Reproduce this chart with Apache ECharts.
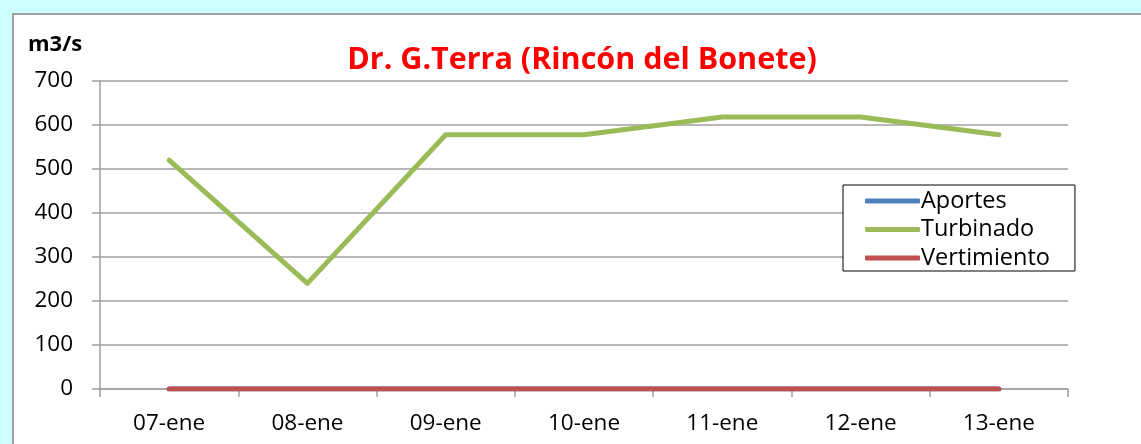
<!DOCTYPE html>
<html>
<head>
<meta charset="utf-8">
<script src="https://cdn.jsdelivr.net/npm/echarts@6/dist/echarts.min.js"></script>
<style>
  html, body { margin: 0; padding: 0; background: #ccffff; }
  #chart { position: absolute; left: 12px; top: 13px; width: 1140px; height: 440px;
           background: #fff; border: 2px solid #a0a0a0; box-sizing: border-box; }
</style>
</head>
<body>
<div id="chart"></div>
<script>
// datos
var fechas = ['07-ene', '08-ene', '09-ene', '10-ene', '11-ene', '12-ene', '13-ene'];
var aportes = [0, 0, 0, 0, 0, 0, 0];
var turbinado = [520, 240, 578, 578, 618, 618, 578];
var vertimiento = [0, 0, 0, 0, 0, 0, 0];

var fuente = '"Open Sans", "Liberation Sans", sans-serif';
var gris = '#a0a0a0';

var myChart = echarts.init(document.getElementById('chart'));

// el contenido del div empieza en (14,15)
myChart.setOption({
    animation: false,
    title: {
        text: 'Dr. G.Terra (Rincón del Bonete)',
        left: 563,
        top: 25,
        textAlign: 'center',
        textStyle: { color: '#ff0000', fontFamily: fuente, fontWeight: 'bold', fontSize: 30.5 }
    },
    graphic: [{
        type: 'text',
        left: 14,
        top: 19,
        style: { text: 'm3/s', fill: '#000', font: 'bold 22px ' + fuente }
    }],
    legend: {
        orient: 'vertical',
        left: 829,
        top: 170,
        padding: [4, 25, 1, 22],
        itemGap: 4.5,
        itemWidth: 55,
        itemHeight: 5,
        icon: 'roundRect',
        borderColor: '#000',
        borderWidth: 1,
        backgroundColor: '#fff',
        textStyle: { fontFamily: fuente, fontSize: 23.5, color: '#000', padding: [0, 0, 0, -4] },
        data: ['Aportes', 'Turbinado', 'Vertimiento']
    },
    grid: { left: 86, right: 82, top: 66, bottom: 62, containLabel: false },
    xAxis: {
        type: 'category',
        data: fechas,
        boundaryGap: true,
        axisLine: { lineStyle: { color: gris, width: 1.5 } },
        axisTick: { show: true, length: 8, lineStyle: { color: gris, width: 1.5 } },
        axisLabel: { margin: 23, color: '#000', fontFamily: fuente, fontSize: 22.5 }
    },
    yAxis: {
        type: 'value',
        min: 0,
        max: 700,
        interval: 100,
        axisLine: { show: true, lineStyle: { color: gris, width: 1.5 } },
        axisTick: { show: true, length: 8, lineStyle: { color: gris, width: 1.5 } },
        splitLine: { lineStyle: { color: gris, width: 1.5 } },
        axisLabel: { margin: 27, color: '#000', fontFamily: fuente, fontSize: 22.5 }
    },
    series: [
        { name: 'Aportes', type: 'line', data: aportes, showSymbol: false, color: '#4f81bd',
          lineStyle: { width: 5, cap: 'round', join: 'round' } },
        { name: 'Turbinado', type: 'line', data: turbinado, showSymbol: false, color: '#9bbb59',
          lineStyle: { width: 5, cap: 'round', join: 'round' } },
        { name: 'Vertimiento', type: 'line', data: vertimiento, showSymbol: false, color: '#c0504d',
          lineStyle: { width: 5, cap: 'round', join: 'round' } }
    ]
});
</script>
</body>
</html>
